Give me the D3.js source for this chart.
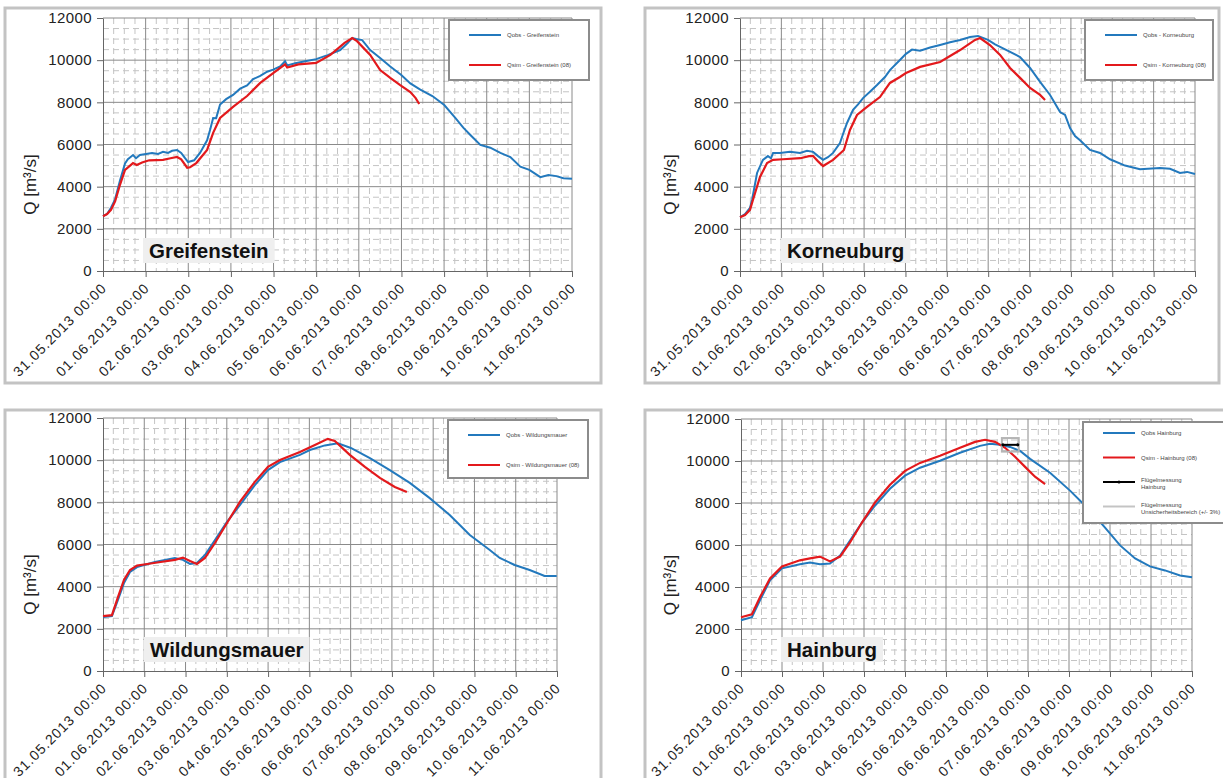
<!DOCTYPE html>
<html lang="de">
<head>
<meta charset="UTF-8">
<title>Hochwasser Juni 2013 - Donau</title>
<script src="https://d3js.org/d3.v7.min.js"></script>
<style>
  body { margin: 0; background: #fff; font-family: Arial, "Liberation Sans", sans-serif; }
  svg { display: block; }
  .minor { stroke: #c4c4c4; stroke-width: 1; stroke-dasharray: 6,4; }
  .major { stroke: #8a8a8a; stroke-width: 1; }
  .tick-lbl { font-size: 15px; fill: #222; }
  .leg-txt { font-size: 6px; fill: #444; }
</style>
</head>
<body>
<svg id="chart" width="1223" height="778"></svg>
<script>
// --- data (hours since 31.05.2013 00:00, Q in m3/s) ---
const yTicks = [0, 2000, 4000, 6000, 8000, 10000, 12000];
const xTickLabels = ["31.05.2013 00:00", "01.06.2013 00:00", "02.06.2013 00:00", "03.06.2013 00:00",
  "04.06.2013 00:00", "05.06.2013 00:00", "06.06.2013 00:00", "07.06.2013 00:00",
  "08.06.2013 00:00", "09.06.2013 00:00", "10.06.2013 00:00", "11.06.2013 00:00"];
const stations = ["Greifenstein", "Korneuburg", "Wildungsmauer", "Hainburg"];

const greifObs = [[0,2600],[2.3,2700],[4.5,3000],[6.8,3400],[9.6,4300],[12.4,5100],[14,5300],[16.9,5500],
  [18.6,5350],[20.8,5500],[24.2,5550],[27.6,5600],[31,5550],[33.8,5650],[36.6,5600],[38.9,5700],[41.7,5740],
  [44,5600],[46.2,5350],[47.9,5170],[51.3,5250],[54.6,5600],[58.6,6200],[60.3,6700],[62,7260],[63.7,7250],
  [65.9,7900],[69.3,8150],[73.2,8350],[77.2,8650],[81.1,8800],[84.5,9100],[88.5,9250],[92.4,9450],[95.8,9550],
  [99.7,9700],[102.5,9950],[103.7,9750],[108.2,9850],[113.8,9950],[120,10050],[126.8,10250],[133.5,10480],
  [137,10750],[140.3,11050],[142.5,11000],[145.9,10950],[150.4,10480],[156,10100],[161.7,9700],[167.9,9300],
  [173,8900],[178.6,8600],[185.4,8300],[192.1,7870],[198.3,7260],[202.8,6800],[206.8,6450],[212.4,5980],
  [218,5850],[223.7,5600],[229.3,5400],[234.9,4950],[240,4800],[246.2,4450],[250.7,4550],[255.2,4500],
  [259.2,4400],[264,4380]];
const greifSim = [[0,2600],[2.3,2700],[4.5,2900],[6.8,3300],[9.6,4100],[12.4,4800],[16.9,5120],[19,5030],
  [22,5150],[26,5250],[33.8,5270],[38,5350],[41.7,5410],[44,5300],[47.4,4900],[49,4920],[52.5,5120],
  [58.6,5740],[62,6550],[65.9,7260],[73.2,7780],[81.1,8300],[88.5,8920],[95.8,9390],[102.5,9800],[103.7,9650],
  [110,9800],[120,9870],[128,10250],[136,10820],[140.3,11050],[143,10900],[150.4,10250],[156,9530],
  [161.7,9160],[167.3,8820],[173,8490],[176,8200],[178,7920]];

const kornObs = [[0,2550],[2.9,2700],[5.8,3000],[7,3370],[9.9,4650],[13.3,5270],[16.2,5450],[18,5350],
  [19.2,5600],[23.2,5600],[29,5650],[34.8,5600],[38.9,5700],[42.4,5650],[45.3,5450],[48.2,5270],[51,5400],
  [54,5600],[58,6070],[59.8,6500],[62.1,7020],[65.6,7640],[68.5,7900],[71.4,8200],[75.4,8500],[79.5,8820],
  [84.1,9200],[87,9530],[92.8,10010],[96.3,10300],[99.8,10500],[104.5,10450],[110.3,10600],[116.1,10720],
  [121.9,10850],[127.7,10960],[133.5,11100],[138.1,11150],[143.9,10960],[148,10750],[150.9,10630],
  [156.7,10390],[162.5,10150],[168.3,9630],[174.1,8970],[179.9,8350],[185.7,7540],[188.6,7400],[191.5,6780],
  [194.4,6400],[197.3,6200],[203.1,5740],[208.9,5600],[214.7,5300],[223.4,5000],[232.1,4830],[243.7,4880],
  [249.5,4850],[255.3,4650],[259.4,4700],[264,4600]];
const kornSim = [[0,2550],[2.9,2650],[5.8,2900],[7.5,3370],[11.6,4460],[15.7,5120],[19.2,5270],[25,5300],
  [35,5350],[40,5450],[42.4,5450],[45.3,5200],[48.2,4980],[54,5270],[60.3,5740],[63.8,6690],[67.9,7400],
  [73.7,7780],[81.2,8250],[87,8920],[92.8,9200],[96.3,9390],[104.5,9680],[116.1,9910],[127.7,10480],
  [136.4,10960],[139.3,11050],[145,10720],[150.9,10250],[156.7,9630],[162.5,9160],[168.3,8680],
  [174.1,8350],[177,8110]];

const wildObs = [[0,2560],[5.2,2600],[8.7,3370],[12.2,4170],[15.7,4700],[19.8,4930],[23.8,5030],[30.2,5170],
  [36,5270],[41.8,5360],[46.5,5270],[50.6,5080],[54.6,5120],[59.3,5500],[65.1,6210],[72.1,7070],[79.6,7870],
  [88.3,8820],[95.9,9530],[102.9,9910],[114.5,10250],[120.3,10480],[129,10700],[136.6,10800],[144.1,10580],
  [155.2,10100],[166.8,9530],[178.4,8920],[190,8200],[201.6,7400],[213.3,6450],[224.9,5740],[230.7,5360],
  [239.4,5030],[248.1,4790],[256.8,4510],[263.8,4510]];
const wildSim = [[0,2600],[5.2,2650],[8.7,3500],[12.2,4320],[15.7,4790],[19.8,5000],[23.8,5050],[33.5,5170],
  [41.8,5270],[46.5,5380],[50.6,5220],[54.6,5080],[59.3,5360],[65.1,6070],[72.1,7020],[79.6,8020],
  [88.3,8970],[95.9,9680],[102.9,10010],[114.5,10390],[123.2,10720],[130.7,11010],[134.8,10910],
  [143.5,10250],[152.3,9680],[161,9160],[169.7,8730],[176.7,8490]];

const hainObs = [[0,2420],[6.4,2560],[11.1,3370],[17,4320],[24,4890],[34.5,5080],[40.4,5170],[46.2,5080],
  [52.1,5120],[58,5500],[63.8,6210],[70.8,7070],[78.4,7870],[87.2,8680],[96,9300],[104.8,9680],[116.5,10010],
  [128.2,10390],[139.9,10720],[145.8,10820],[151.6,10770],[157.5,10670],[163.4,10480],[169.2,10100],
  [180.9,9440],[192.6,8590],[204.3,7640],[213.1,6830],[221.9,5980],[230.7,5360],[239.4,4980],[248.2,4790],
  [257,4550],[264,4460]];
const hainSim = [[0,2560],[6.4,2700],[11.1,3510],[17,4410],[24,4980],[34.5,5270],[40.4,5360],[46.2,5450],
  [52.1,5220],[58,5450],[63.8,6120],[70.8,7070],[78.4,8020],[87.2,8870],[96,9530],[104.8,9910],[116.5,10250],
  [128.2,10630],[137,10910],[142.9,11010],[148.7,10910],[154.6,10630],[160.4,10200],[166.3,9720],
  [172.1,9250],[178,8900]];
// Fluegelmessung Hainburg: start/end hour, Q, uncertainty
const hainMess = [[153.3,10770],[162,10770]];
const messUnc = 0.03;

const legendObs = ["Qobs - Greifenstein", "Qobs - Korneuburg", "Qobs - Wildungsmauer", "Qobs Hainburg"];
const legendSim = ["Qsim - Greifenstein (08)", "Qsim - Korneuburg (08)", "Qsim - Wildungsmauer (08)", "Qsim - Hainburg (08)"];

// --- layout ---
const panels = [
  { frame: [5, 8, 596, 375], plot: [103, 572, 18, 271], legend: [449, 20, 140, 60], label: [149, 258],
    obs: greifObs, sim: greifSim },
  { frame: [645, 8, 574, 375], plot: [740, 1195, 18, 271], legend: [1085, 20, 128, 60], label: [787, 258],
    obs: kornObs, sim: kornSim },
  { frame: [5, 410, 596, 400], plot: [103, 557, 418, 671], legend: [448, 420, 140, 58], label: [150, 657],
    obs: wildObs, sim: wildSim },
  { frame: [645, 410, 600, 400], plot: [741, 1192, 419, 671], legend: [1083, 422, 150, 101], label: [787, 657],
    obs: hainObs, sim: hainSim, mess: true }
];

const svg = d3.select("#chart");
const parseT = d3.utcParse("%d.%m.%Y %H:%M");
const t0 = parseT(xTickLabels[0]);
const dayTicks = xTickLabels.map(parseT);
const toDate = h => new Date(t0.getTime() + h * 3600e3);
const blue = "#2379bd", red = "#e3191c";

panels.forEach((p, i) => {
  const [l, r, top, bot] = p.plot;
  const x = d3.scaleUtc().domain([dayTicks[0], dayTicks[dayTicks.length - 1]]).range([l, r]);
  const y = d3.scaleLinear().domain([0, 12000]).range([bot, top]);
  const g = svg.append("g");

  // panel frame
  g.append("rect").attr("x", p.frame[0]).attr("y", p.frame[1])
    .attr("width", p.frame[2]).attr("height", p.frame[3])
    .attr("fill", "#fff").attr("stroke", "#c3c3c3").attr("stroke-width", 3);

  // minor grid
  const minorX = d3.utcHour.every(6).range(dayTicks[0], dayTicks[dayTicks.length - 1])
    .filter(d => d.getUTCHours() !== 0);
  const minorY = d3.range(500, 12000, 500).filter(v => v % 2000 !== 0);
  g.selectAll(".mx").data(minorX).join("line").attr("class", "minor")
    .attr("x1", d => x(d)).attr("x2", d => x(d)).attr("y1", top).attr("y2", bot);
  g.selectAll(".my").data(minorY).join("line").attr("class", "minor")
    .attr("x1", l).attr("x2", r).attr("y1", d => y(d)).attr("y2", d => y(d));

  // major grid
  g.selectAll(".gx").data(dayTicks.slice(1)).join("line").attr("class", "major")
    .attr("x1", d => x(d)).attr("x2", d => x(d)).attr("y1", top).attr("y2", bot);
  g.selectAll(".gy").data(yTicks.slice(1)).join("line").attr("class", "major")
    .attr("x1", l).attr("x2", r).attr("y1", d => y(d)).attr("y2", d => y(d));

  // axes
  const ya = g.append("g").attr("transform", `translate(${l},0)`)
    .call(d3.axisLeft(y).tickValues(yTicks).tickSize(6).tickSizeOuter(0).tickFormat(d3.format("d")));
  ya.select(".domain").attr("stroke", "#666");
  ya.selectAll(".tick line").attr("stroke", "#666");
  ya.selectAll("text").attr("class", "tick-lbl").attr("x", -11)
    .style("font-family", "Arial, 'Liberation Sans'").style("letter-spacing", "0.4px");

  const xa = g.append("g").attr("transform", `translate(0,${bot})`)
    .call(d3.axisBottom(x).tickValues(dayTicks).tickSize(6).tickSizeOuter(0).tickFormat(d3.utcFormat("%d.%m.%Y %H:%M")));
  xa.select(".domain").attr("stroke", "#666");
  xa.selectAll(".tick line").attr("stroke", "#666");
  xa.selectAll("text").attr("class", "tick-lbl").style("font-size", "14px").style("letter-spacing", "1px")
    .style("font-family", "Arial, 'Liberation Sans'")
    .attr("text-anchor", "end").attr("y", 0).attr("dy", 0)
    .attr("transform", "translate(4,18) rotate(-45)");

  // y label
  g.append("text").attr("transform", `translate(${p.frame[0] + 31},${(top + bot) / 2 + 40}) rotate(-90)`)
    .attr("text-anchor", "middle").style("font-size", "17px").attr("fill", "#222")
    .text("Q [m³/s]");

  // station label
  const sg = g.append("g");
  const lbl = sg.append("text").attr("x", p.label[0]).attr("y", p.label[1])
    .style("font-size", "20.5px").style("font-weight", "bold").attr("fill", "#111")
    .text(stations[i]);
  const bb = lbl.node().getBBox();
  sg.insert("rect", "text").attr("x", bb.x - 6).attr("y", bb.y - 1)
    .attr("width", bb.width + 12).attr("height", bb.height + 2).attr("fill", "#efefef");

  // series
  const line = d3.line().x(d => x(toDate(d[0]))).y(d => y(d[1]));
  g.append("path").datum(p.obs).attr("d", line).attr("fill", "none")
    .attr("stroke", blue).attr("stroke-width", 2);
  g.append("path").datum(p.sim).attr("d", line).attr("fill", "none")
    .attr("stroke", red).attr("stroke-width", 2.2);

  if (p.mess) {
    const q = hainMess[0][1];
    const x1 = x(toDate(hainMess[0][0])), x2 = x(toDate(hainMess[1][0]));
    g.append("rect").attr("x", x1 - 1).attr("y", y(q * (1 + messUnc)))
      .attr("width", x2 - x1 + 2).attr("height", y(q * (1 - messUnc)) - y(q * (1 + messUnc)))
      .attr("fill", "none").attr("stroke", "#b5b5b5").attr("stroke-width", 2);
    g.append("path").datum(hainMess).attr("d", line).attr("stroke", "#000").attr("stroke-width", 2);
    g.selectAll(".mm").data(hainMess).join("circle").attr("cx", d => x(toDate(d[0]))).attr("cy", d => y(d[1]))
      .attr("r", 1.6).attr("fill", "#000");
  }

  // legend
  const [lx, ly, lw, lh] = p.legend;
  const lg = g.append("g");
  lg.append("rect").attr("x", lx).attr("y", ly).attr("width", lw).attr("height", lh)
    .attr("fill", "#fff").attr("stroke", "#8c8c8c").attr("stroke-width", 2);
  const entries = [{ c: blue, t: legendObs[i] }, { c: red, t: legendSim[i] }];
  if (p.mess) {
    entries.push({ c: "#000", t: ["Flügelmessung", "Hainburg"], m: true });
    entries.push({ c: "#c4c4c4", t: ["Flügelmessung", "Unsicherheitsbereich (+/- 3%)"] });
  }
  const step = p.mess ? 24.5 : 30;
  const first = p.mess ? 11 : 15;
  entries.forEach((e, k) => {
    const ey = ly + first + k * step;
    lg.append("line").attr("x1", lx + 20).attr("x2", lx + 52).attr("y1", ey).attr("y2", ey)
      .attr("stroke", e.c).attr("stroke-width", 2);
    if (e.m) lg.append("circle").attr("cx", lx + 36).attr("cy", ey).attr("r", 1.5).attr("fill", "#000");
    const tt = lg.append("text").attr("class", "leg-txt").attr("x", lx + 58).attr("y", ey + 2);
    if (Array.isArray(e.t)) {
      tt.attr("y", ey);
      e.t.forEach((s, j) => tt.append("tspan").attr("x", lx + 58).attr("dy", j ? 7 : 0).text(s));
    } else tt.text(e.t);
  });
});
</script>
</body>
</html>
